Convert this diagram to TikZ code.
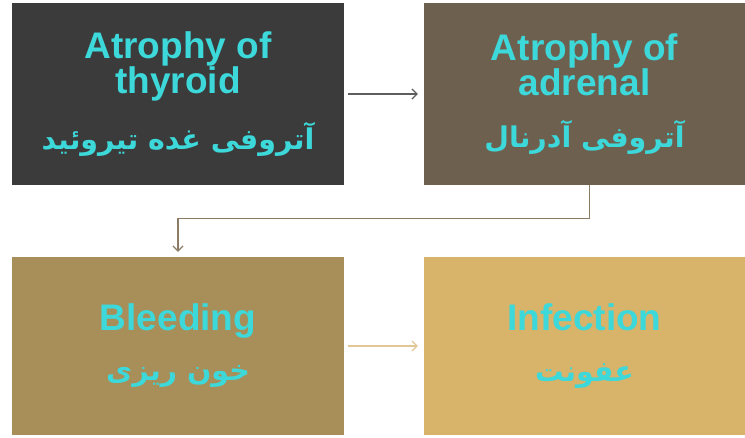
\documentclass[tikz,border=0pt]{standalone}
\usepackage{fontspec}
\setmainfont{Liberation Sans}
\newfontfamily\arabicfont[Script=Arabic]{DejaVu Sans}
\TeXXeTstate=1
\usetikzlibrary{calc,arrows.meta}
\definecolor{thyroidfill}{HTML}{3B3B3B}
\definecolor{adrenalfill}{HTML}{6E604F}
\definecolor{bleedfill}{HTML}{A88E58}
\definecolor{infectfill}{HTML}{D8B36A}
\definecolor{labelcyan}{HTML}{3DD8DA}
\definecolor{arrowgray}{HTML}{5E5E5E}
\definecolor{arrowbrown}{HTML}{8B7D65}
\definecolor{arrowtan}{HTML}{E2C796}
\newcommand{\fa}[1]{{\arabicfont\bfseries\fontsize{28.5}{30}\selectfont\beginR #1\endR}}

\begin{document}
\begin{tikzpicture}[x=1pt,y=-1pt,
    stagebox/.style={inner sep=0pt,text=labelcyan,align=center,
        font=\bfseries\fontsize{37}{34}\selectfont},
    link/.style={-{Straight Barb[length=5pt,width=10pt]},line width=1.2pt}]
    \useasboundingbox (0,0) rectangle (745,437);
    \node[stagebox,fill=thyroidfill,minimum width=332pt,minimum height=182pt] (thyroid) at (178,94)
        {Atrophy of\\thyroid\\[20pt]\fa{آتروفی غده تیروئید}}; % top left
    \node[stagebox,fill=adrenalfill,minimum width=321pt,minimum height=182pt] (adrenal) at (584.5,94)
        {Atrophy of\\adrenal\\[18pt]\fa{آتروفی آدرنال}}; % top right
    \node[stagebox,fill=bleedfill,minimum width=332pt,minimum height=178pt] (bleeding) at (178,346)
        {Bleeding\\[16pt]\fa{خون ریزی}\hspace{10pt}}; % bottom left
    \node[stagebox,fill=infectfill,minimum width=321pt,minimum height=178pt] (infection) at (584.5,346)
        {Infection\\[17pt]\fa{عفونت}\hspace{20pt}}; % bottom right
    \draw[link,arrowgray,shorten <=4pt,shorten >=6pt] (thyroid) -- (adrenal);
    \coordinate (turn) at ($(adrenal.south)+(5,33)$); % bend below the top row
    \draw[link,arrowbrown,shorten >=5pt] ($(adrenal.south)+(5,0)$) -- (turn) -| (bleeding.north);
    \draw[link,arrowtan,shorten <=4pt,shorten >=6pt] (bleeding) -- (infection);
\end{tikzpicture}
\end{document}
